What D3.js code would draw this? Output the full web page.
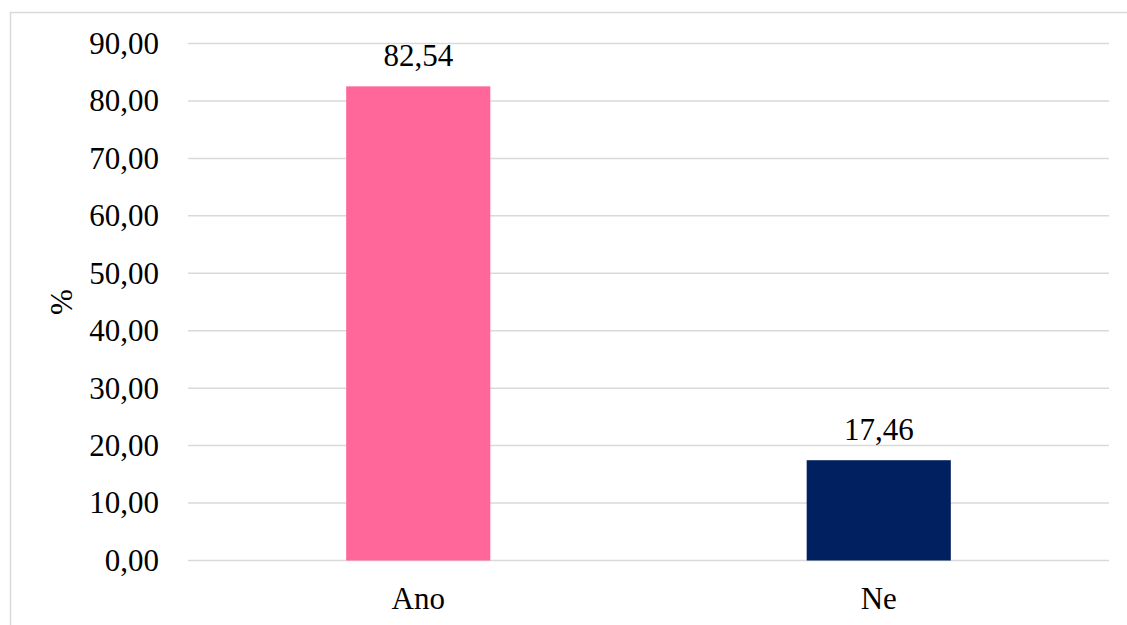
<!DOCTYPE html>
<html>
<head>
<meta charset="utf-8">
<script src="https://cdn.jsdelivr.net/npm/d3@7"></script>
<style>
  body { margin: 0; background: #fff; }
  svg { display: block; font-family: "Liberation Serif", "Times New Roman", serif; }
</style>
</head>
<body>
<svg id="chart"></svg>
<script>
// data
const categories = ["Ano", "Ne"];
const values = [82.54, 17.46];
const colors = ["#FF6699", "#002060"];
const yTicks = [0, 10, 20, 30, 40, 50, 60, 70, 80, 90];

const width = 1127, height = 625;
const margin = { top: 43.5, right: 18, bottom: 64.5, left: 188 };
const fontSize = 31;

const svg = d3.select("#chart")
    .attr("width", width)
    .attr("height", height);

// outer frame (runs off right and bottom edges)
svg.append("rect")
    .attr("x", 10.5).attr("y", 12.5)
    .attr("width", width + 20).attr("height", height + 20)
    .attr("fill", "none")
    .attr("stroke", "#d9d9d9")
    .attr("stroke-width", 1.5);

const x = d3.scaleBand()
    .domain(categories)
    .range([margin.left, width - margin.right])
    .paddingInner(0.687)
    .paddingOuter(0.3435);

const y = d3.scaleLinear()
    .domain([0, 90])
    .range([height - margin.bottom, margin.top]);

// gridlines
svg.append("g")
    .selectAll("line")
    .data(yTicks)
    .join("line")
    .attr("x1", margin.left)
    .attr("x2", width - margin.right)
    .attr("y1", d => y(d))
    .attr("y2", d => y(d))
    .attr("stroke", "#d9d9d9")
    .attr("stroke-width", 1.5);

// y axis labels
const fmt = d => d.toFixed(2).replace(".", ",");
const yAxis = d3.axisLeft(y).tickValues(yTicks).tickFormat(fmt).tickSize(0).tickPadding(29);
svg.append("g")
    .attr("transform", `translate(${margin.left},0)`)
    .call(yAxis)
    .call(g => g.select(".domain").remove())
    .selectAll("text")
    .attr("font-family", "Liberation Serif, serif")
    .attr("font-size", fontSize)
    .attr("fill", "#000");

// bars
svg.append("g")
    .selectAll("rect")
    .data(values)
    .join("rect")
    .attr("x", (d, i) => x(categories[i]))
    .attr("width", x.bandwidth())
    .attr("y", d => y(d))
    .attr("height", d => y(0) - y(d))
    .attr("fill", (d, i) => colors[i]);

// value labels
svg.append("g")
    .selectAll("text")
    .data(values)
    .join("text")
    .attr("x", (d, i) => x(categories[i]) + x.bandwidth() / 2)
    .attr("y", d => y(d) - 20)
    .attr("text-anchor", "middle")
    .attr("font-size", fontSize)
    .text(d => fmt(d));

// category labels
const xAxis = d3.axisBottom(x).tickSize(0).tickPadding(26);
svg.append("g")
    .attr("transform", `translate(0,${y(0)})`)
    .call(xAxis)
    .call(g => g.select(".domain").remove())
    .selectAll("text")
    .attr("font-family", "Liberation Serif, serif")
    .attr("font-size", fontSize)
    .attr("fill", "#000");

// y axis title
svg.append("text")
    .attr("transform", `translate(72,${(margin.top + y(0)) / 2}) rotate(-90)`)
    .attr("text-anchor", "middle")
    .attr("font-size", fontSize)
    .text("%");
</script>
</body>
</html>
